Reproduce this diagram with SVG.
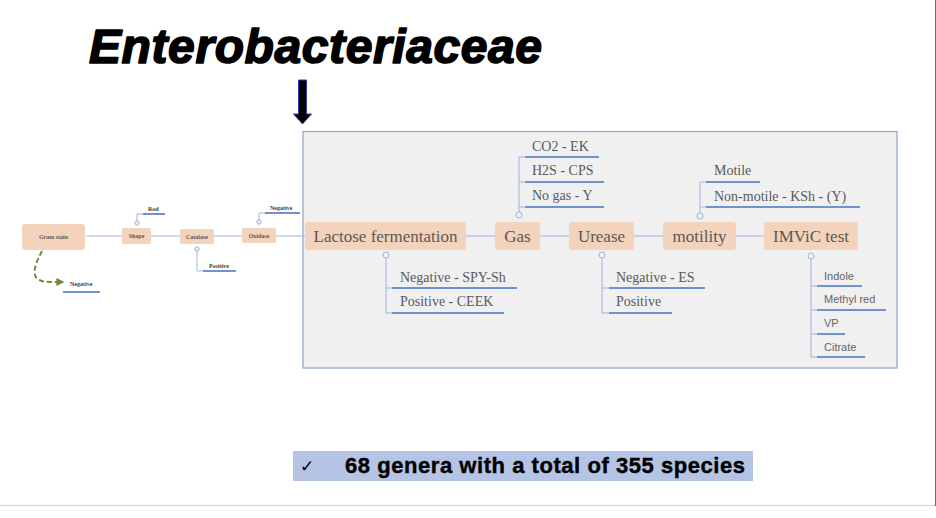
<svg xmlns="http://www.w3.org/2000/svg" width="936" height="518" viewBox="0 0 936 518">
<style>
.node{fill:#f3d3bb;}
.lbl{font-family:"Liberation Serif",serif;fill:#595959;text-anchor:middle;}
.big{font-size:17px;}
.tiny{font-size:6px;font-weight:bold;}
.kid{font-family:"Liberation Serif",serif;font-size:14px;fill:#595959;}
.kids{font-family:"Liberation Sans",sans-serif;font-size:11px;fill:#666;}
.tk{font-family:"Liberation Serif",serif;font-size:6px;font-weight:bold;fill:#404040;}
.con{stroke:#9db4dc;stroke-width:1;fill:none;}
.ul{stroke:#6f93cf;stroke-width:2;}
.dot{fill:#f0f0f0;stroke:#9db4dc;stroke-width:1;}
</style>
<defs>
<marker id="gh" viewBox="0 0 10 10" refX="2" refY="5" markerWidth="4" markerHeight="4" orient="auto"><path d="M0,0 L10,5 L0,10 z" fill="#6f8a38"/></marker>
</defs>
<rect width="936" height="518" fill="#ffffff"/>
<line x1="0" y1="505.5" x2="936" y2="505.5" stroke="#d6dce9" stroke-width="1.5"/>
<line x1="935.5" y1="0" x2="935.5" y2="506" stroke="#666" stroke-width="1"/>

<g id="title"><text x="89" y="63" font-family="Liberation Sans,Arial,sans-serif" font-size="48" font-weight="bold" font-style="italic" textLength="453" lengthAdjust="spacing" fill="#000" stroke="#000" stroke-width="1.6" stroke-linejoin="round">Enterobacteriaceae</text></g>
<g id="down-arrow"><path d="M298.5,80 L306.5,80 L306.5,114 L311.5,114 L302.5,124 L293.5,114 L298.5,114 Z" fill="#000" stroke="#2a3fb0" stroke-width="1"/></g>

<g id="panel"><rect x="303" y="131.5" width="594" height="236.5" fill="#f0f0f0" stroke="#8ea6cc" stroke-width="1.2"/></g>

<g id="connectors">
<line class="con" x1="86" y1="236" x2="122" y2="236"/>
<line class="con" x1="151" y1="236" x2="180" y2="236"/>
<line class="con" x1="214" y1="236" x2="242" y2="236"/>
<line class="con" x1="276" y1="236" x2="305" y2="236"/>
<line class="con" x1="466" y1="236" x2="495" y2="236"/>
<line class="con" x1="540" y1="236" x2="569" y2="236"/>
<line class="con" x1="634" y1="236" x2="663" y2="236"/>
<line class="con" x1="736" y1="236" x2="764" y2="236"/>
<path class="con" d="M137,221 V214 H143"/>
<path class="con" d="M259,220 V213 H265"/>
<path class="con" d="M197,251 V271 H203"/>
<path class="con" d="M519,212 V157 H525 M519,182 H525 M519,207 H525"/>
<path class="con" d="M386,258 V313 H392 M386,288 H392"/>
<path class="con" d="M602,258 V313 H609 M602,288 H609"/>
<path class="con" d="M700,213 V182 H706 M700,207 H706"/>
<path class="con" d="M811,259 V357 H817 M811,286 H817 M811,310 H817 M811,334 H817"/>
<circle class="dot" cx="137" cy="223" r="2.2"/>
<circle class="dot" cx="259" cy="222" r="2.2"/>
<circle class="dot" cx="197" cy="249" r="2.2"/>
<circle class="dot" cx="519" cy="215" r="3"/>
<circle class="dot" cx="386" cy="255" r="3"/>
<circle class="dot" cx="602" cy="255" r="3"/>
<circle class="dot" cx="700" cy="216" r="3"/>
<circle class="dot" cx="811" cy="256" r="3"/>
<path d="M42,251 C32,270 30,282 50,282 L58,282" fill="none" stroke="#6f8a38" stroke-width="2" stroke-dasharray="5,3" marker-end="url(#gh)"/>
</g>

<g id="gram-stain"><rect class="node" x="22" y="224" width="63" height="26" rx="3"/><text class="lbl tiny" x="53.5" y="239">Gram stain</text></g>
<g id="shape"><rect class="node" x="122" y="228" width="29" height="16" rx="2"/><text class="lbl tiny" x="136.5" y="238">Shape</text></g>
<g id="catalase"><rect class="node" x="180" y="229" width="34" height="15" rx="2"/><text class="lbl tiny" x="197" y="238.5">Catalase</text></g>
<g id="oxidase"><rect class="node" x="242" y="228" width="34" height="15" rx="2"/><text class="lbl tiny" x="259" y="238">Oxidase</text></g>

<g id="rod"><line class="ul" x1="143" y1="214" x2="165" y2="214" stroke-width="1.5"/><text class="tk" x="148" y="211">Rod</text></g>
<g id="oxidase-negative"><line class="ul" x1="265" y1="213" x2="300" y2="213" stroke-width="1.5"/><text class="tk" x="270" y="210">Negative</text></g>
<g id="catalase-positive"><line class="ul" x1="203" y1="271" x2="236" y2="271" stroke-width="1.5"/><text class="tk" x="209" y="268">Positive</text></g>
<g id="gram-negative"><line class="ul" x1="63" y1="292" x2="100" y2="292" stroke-width="1.5"/><text class="tk" x="70" y="286">Negative</text></g>

<g id="lactose"><rect class="node" x="305" y="222" width="161" height="28" rx="3"/><text class="lbl big" x="385.5" y="242">Lactose fermentation</text></g>
<g id="gas"><rect class="node" x="495" y="222" width="45" height="28" rx="3"/><text class="lbl big" x="517.5" y="242">Gas</text></g>
<g id="urease"><rect class="node" x="569" y="222" width="65" height="28" rx="3"/><text class="lbl big" x="601.5" y="242">Urease</text></g>
<g id="motility"><rect class="node" x="663" y="222" width="73" height="28" rx="3"/><text class="lbl big" x="699.5" y="242">motility</text></g>
<g id="imvic"><rect class="node" x="764" y="222" width="94" height="28" rx="3"/><text class="lbl big" x="811" y="242">IMViC test</text></g>

<g id="gas-co2"><line class="ul" x1="525" y1="157" x2="599" y2="157"/><text class="kid" x="532" y="151">CO2 - EK</text></g>
<g id="gas-h2s"><line class="ul" x1="525" y1="182" x2="604" y2="182"/><text class="kid" x="532" y="175">H2S - CPS</text></g>
<g id="gas-none"><line class="ul" x1="525" y1="207" x2="604" y2="207"/><text class="kid" x="532" y="200">No gas - Y</text></g>

<g id="lac-neg"><line class="ul" x1="392" y1="288" x2="517" y2="288"/><text class="kid" x="400" y="282">Negative - SPY-Sh</text></g>
<g id="lac-pos"><line class="ul" x1="392" y1="313" x2="504" y2="313"/><text class="kid" x="400" y="306">Positive - CEEK</text></g>

<g id="ure-neg"><line class="ul" x1="609" y1="288" x2="705" y2="288"/><text class="kid" x="616" y="282">Negative - ES</text></g>
<g id="ure-pos"><line class="ul" x1="609" y1="313" x2="672" y2="313"/><text class="kid" x="616" y="306">Positive</text></g>

<g id="mot-yes"><line class="ul" x1="706" y1="182" x2="760" y2="182"/><text class="kid" x="714" y="175">Motile</text></g>
<g id="mot-no"><line class="ul" x1="706" y1="207" x2="860" y2="207"/><text class="kid" x="714" y="201">Non-motile - KSh - (Y)</text></g>

<g id="indole"><line class="ul" x1="817" y1="286" x2="862" y2="286"/><text class="kids" x="824" y="280">Indole</text></g>
<g id="methyl-red"><line class="ul" x1="817" y1="310" x2="886" y2="310"/><text class="kids" x="824" y="303">Methyl red</text></g>
<g id="vp"><line class="ul" x1="817" y1="334" x2="845" y2="334"/><text class="kids" x="824" y="327">VP</text></g>
<g id="citrate"><line class="ul" x1="817" y1="357" x2="865" y2="357"/><text class="kids" x="824" y="351">Citrate</text></g>

<g id="summary"><rect x="293" y="451" width="460" height="30" fill="#b5c4e4"/>
<text x="300" y="472" font-family="DejaVu Sans,sans-serif" font-size="17" fill="#000">✓</text>
<text x="345" y="473" font-family="Liberation Sans,Arial,sans-serif" font-size="22" font-weight="bold" textLength="400" lengthAdjust="spacing" fill="#000" stroke="#000" stroke-width="0.4">68 genera with a total of 355 species</text></g>
</svg>
